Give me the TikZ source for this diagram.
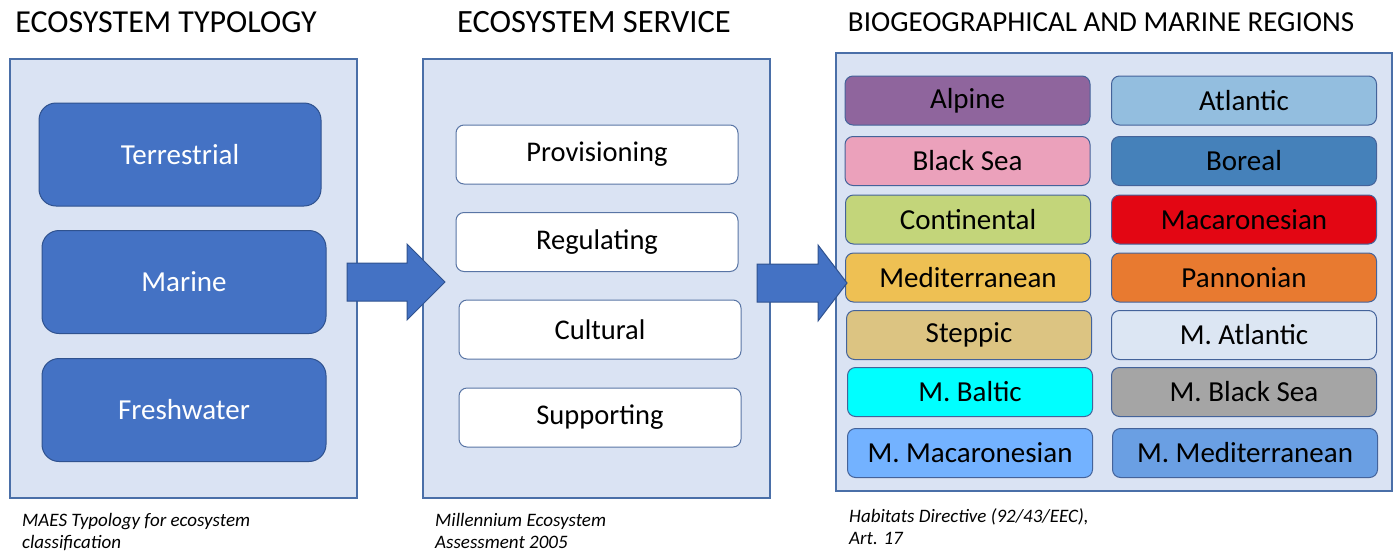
\documentclass[tikz,border=0pt]{standalone}
\usepackage{fontspec}
\setmainfont{Carlito}
\definecolor{panelfill}{HTML}{DAE3F3}
\definecolor{paneldraw}{HTML}{4A6FA8}
\definecolor{blueA}{HTML}{4472C4}
\definecolor{blueD}{HTML}{2F528F}
\definecolor{cAlpine}{HTML}{8F659D}
\definecolor{cAtlantic}{HTML}{93BEDF}
\definecolor{cBlackSea}{HTML}{EBA1BB}
\definecolor{cBoreal}{HTML}{4581BA}
\definecolor{cContinental}{HTML}{C3D57A}
\definecolor{cMacaronesian}{HTML}{E30613}
\definecolor{cMediterranean}{HTML}{EEC053}
\definecolor{cPannonian}{HTML}{E87A30}
\definecolor{cSteppic}{HTML}{DCC482}
\definecolor{cMAtlantic}{HTML}{DCE6F3}
\definecolor{cMBaltic}{HTML}{00FFFF}
\definecolor{cMBlackSea}{HTML}{A5A5A5}
\definecolor{cMMacaronesian}{HTML}{73B2FF}
\definecolor{cMMediterranean}{HTML}{6A9FE3}
\begin{document}
\begin{tikzpicture}[x=1pt,y=-1pt,
  panel/.style={draw=paneldraw, fill=panelfill, line width=1.4pt, minimum width=#1, minimum height=439pt, inner sep=0pt},
  title/.style={font=\fontsize{#1}{36}\selectfont, inner sep=0pt},
  typebox/.style={draw=blueD, fill=blueA, line width=1pt, rounded corners=17pt, minimum width=284pt, minimum height=103pt, text=white, font=\fontsize{29}{34}\selectfont},
  servbox/.style={draw=blueD!80, fill=white, line width=1pt, rounded corners=8pt, minimum width=282pt, minimum height=59pt, font=\fontsize{28.5}{34}\selectfont},
  regbox/.style={draw=blueD!90, fill=#1, line width=1pt, rounded corners=8pt, minimum height=49pt, font=\fontsize{29}{34}\selectfont},
  regL/.style={regbox=#1, minimum width=245pt},
  regR/.style={regbox=#1, minimum width=265pt},
  caption/.style={font=\itshape\fontsize{19}{22.5}\selectfont, align=left, anchor=north west, inner sep=0pt},
  blockarrow/.style={fill=blueA, draw=blueD, line width=1pt}
]
\useasboundingbox (0,0) rectangle (1397,555);

% panels
\node[panel=347pt] (p1) at (183.5,278.5) {};
\node[panel=347pt] (p2) at (596.5,278.5) {};
\node[panel=556pt, minimum height=438pt] (p3) at (1114,272) {};

% titles
\node[title=32] (t1) at (166,22) {ECOSYSTEM TYPOLOGY};
\node[title=32.5] (t2) at (594,22) {ECOSYSTEM SERVICE};
\node[title=29] (t3) at (1101,22) {BIOGEOGRAPHICAL AND MARINE REGIONS};

% typology
\node[typebox, minimum width=282pt] (terr) at (180,154.5) {Terrestrial};
\node[typebox] (mar) at (184,282) {Marine};
\node[typebox] (fresh) at (184,410) {Freshwater};

% services
\node[servbox] (prov) at (597,154.5) {Provisioning};
\node[servbox] (reg) at (597,242) {Regulating};
\node[servbox] (cult) at (600,329.5) {Cultural};
\node[servbox] (supp) at (600,417.5) {Supporting};

% regions
\node[regL=cAlpine] (alp) at (967.5,100.5) {Alpine};
\node[regR=cAtlantic] (atl) at (1244,100.5) {Atlantic};
\node[regL=cBlackSea] (bls) at (967.5,161) {Black Sea};
\node[regR=cBoreal] (bor) at (1244,161) {Boreal};
\node[regL=cContinental] (con) at (968,219.5) {Continental};
\node[regR=cMacaronesian] (mac) at (1244,219.5) {Macaronesian};
\node[regL=cMediterranean] (med) at (968,277.5) {Mediterranean};
\node[regR=cPannonian] (pan) at (1244,277.5) {Pannonian};
\node[regL=cSteppic] (ste) at (969,335) {Steppic};
\node[regR=cMAtlantic] (mat) at (1244,335) {M. Atlantic};
\node[regL=cMBaltic] (mba) at (970,392) {M. Baltic};
\node[regR=cMBlackSea] (mbs) at (1244,392) {M. Black Sea};
\node[regL=cMMacaronesian] (mma) at (970,453) {M. Macaronesian};
\node[regR=cMMediterranean] (mme) at (1245,453) {M. Mediterranean};

% arrows
\draw[blockarrow] (347,263) -- (407,263) -- (407,244) -- (445,282) -- (407,320) -- (407,301) -- (347,301) -- cycle;
\draw[blockarrow] (757,264) -- (818,264) -- (818,245) -- (847,283) -- (818,321) -- (818,302) -- (757,302) -- cycle;

% captions
\node[caption] (c1) at (22,513) {MAES Typology for ecosystem\\classification};
\node[caption] (c2) at (435,513) {Millennium Ecosystem\\Assessment 2005};
\node[caption] (c3) at (849,508) {Habitats Directive (92/43/EEC),\\Art. 17};
\end{tikzpicture}
\end{document}
